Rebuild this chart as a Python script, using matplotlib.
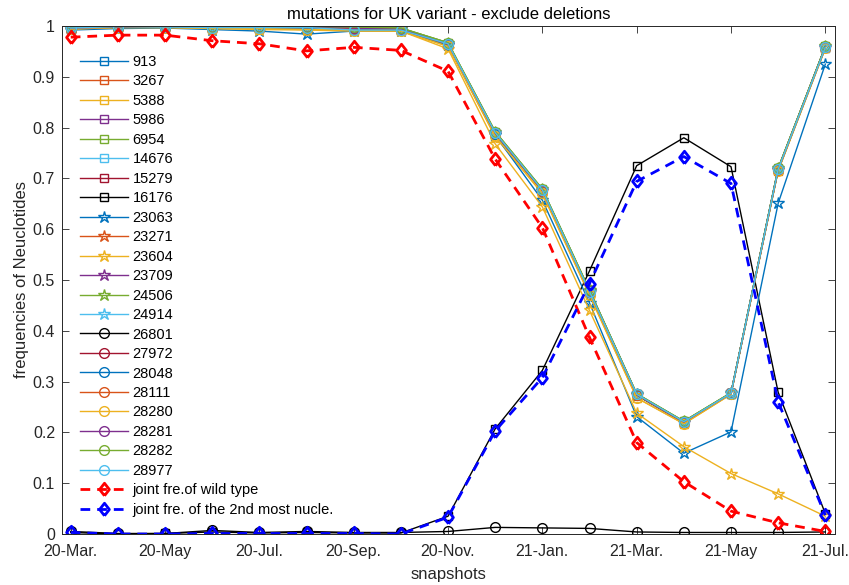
import matplotlib
matplotlib.use("Agg")
import matplotlib.pyplot as plt
import numpy as np

plt.rcParams['font.family'] = ['Liberation Sans', 'DejaVu Sans']

# ---------------- data ----------------
snapshots = list(range(1, 18))
tick_pos = [1, 3, 5, 7, 9, 11, 13, 15, 17]
tick_labels = ['20-Mar.', '20-May', '20-Jul.', '20-Sep.', '20-Nov.',
               '21-Jan.', '21-Mar.', '21-May', '21-Jul.']

mutation_names = ['913', '3267', '5388', '5986', '6954', '14676', '15279', '16176',
                  '23063', '23271', '23604', '23709', '24506', '24914',
                  '26801', '27972', '28048', '28111', '28280', '28281', '28282', '28977']

m913 = [0.995, 0.998, 0.998, 0.996, 0.996, 0.996, 0.994, 0.992, 0.963, 0.787, 0.675, 0.475, 0.273, 0.219, 0.276, 0.716, 0.957]
m3267 = [0.995, 0.998, 0.998, 0.997, 0.997, 0.997, 0.995, 0.993, 0.964, 0.789, 0.676, 0.477, 0.274, 0.220, 0.277, 0.717, 0.958]
m5388 = [0.994, 0.997, 0.997, 0.995, 0.995, 0.993, 0.991, 0.990, 0.960, 0.782, 0.670, 0.470, 0.268, 0.217, 0.275, 0.715, 0.956]
m5986 = [0.996, 0.998, 0.999, 0.998, 0.998, 0.998, 0.996, 0.994, 0.965, 0.790, 0.677, 0.478, 0.275, 0.221, 0.277, 0.718, 0.959]
m6954 = [0.997, 0.999, 0.999, 0.999, 0.999, 0.999, 0.998, 0.996, 0.967, 0.792, 0.679, 0.480, 0.276, 0.222, 0.278, 0.720, 0.960]
m14676 = [0.995, 0.998, 0.998, 0.997, 0.997, 0.997, 0.995, 0.993, 0.964, 0.789, 0.677, 0.477, 0.275, 0.221, 0.277, 0.718, 0.958]
m15279 = [0.995, 0.998, 0.998, 0.997, 0.997, 0.997, 0.995, 0.993, 0.964, 0.789, 0.676, 0.477, 0.274, 0.220, 0.277, 0.719, 0.959]
m16176 = [0.003, 0.000, 0.001, 0.004, 0.002, 0.003, 0.002, 0.002, 0.035, 0.207, 0.322, 0.518, 0.725, 0.780, 0.723, 0.279, 0.040]
m23063 = [0.992, 0.995, 0.996, 0.993, 0.990, 0.984, 0.990, 0.990, 0.962, 0.785, 0.657, 0.455, 0.231, 0.159, 0.201, 0.651, 0.925]
m23271 = [0.995, 0.998, 0.998, 0.997, 0.997, 0.997, 0.995, 0.993, 0.964, 0.789, 0.676, 0.477, 0.274, 0.220, 0.277, 0.717, 0.958]
m23604 = [0.994, 0.997, 0.997, 0.995, 0.993, 0.992, 0.990, 0.990, 0.955, 0.768, 0.644, 0.440, 0.238, 0.172, 0.119, 0.079, 0.035]
m23709 = [0.996, 0.998, 0.999, 0.998, 0.998, 0.998, 0.996, 0.994, 0.965, 0.790, 0.677, 0.478, 0.275, 0.221, 0.277, 0.718, 0.959]
m24506 = [0.997, 0.999, 0.999, 0.999, 0.999, 0.999, 0.998, 0.996, 0.967, 0.792, 0.679, 0.480, 0.276, 0.222, 0.278, 0.720, 0.960]
m24914 = [0.995, 0.998, 0.998, 0.997, 0.997, 0.997, 0.995, 0.993, 0.964, 0.789, 0.677, 0.477, 0.275, 0.221, 0.277, 0.718, 0.958]
m26801 = [0.005, 0.001, 0.001, 0.007, 0.003, 0.005, 0.003, 0.003, 0.005, 0.013, 0.012, 0.011, 0.004, 0.003, 0.003, 0.003, 0.004]
m27972 = [0.995, 0.998, 0.998, 0.997, 0.997, 0.997, 0.995, 0.993, 0.964, 0.789, 0.676, 0.477, 0.274, 0.220, 0.277, 0.719, 0.959]
m28048 = [0.995, 0.998, 0.998, 0.996, 0.996, 0.996, 0.994, 0.992, 0.963, 0.788, 0.676, 0.476, 0.274, 0.220, 0.276, 0.717, 0.958]
m28111 = [0.995, 0.998, 0.998, 0.997, 0.997, 0.997, 0.995, 0.993, 0.964, 0.789, 0.676, 0.477, 0.274, 0.220, 0.277, 0.717, 0.958]
m28280 = [0.994, 0.997, 0.997, 0.995, 0.995, 0.993, 0.991, 0.990, 0.960, 0.783, 0.671, 0.471, 0.268, 0.217, 0.275, 0.715, 0.956]
m28281 = [0.996, 0.998, 0.999, 0.998, 0.998, 0.998, 0.996, 0.994, 0.965, 0.790, 0.677, 0.478, 0.275, 0.221, 0.277, 0.718, 0.959]
m28282 = [0.997, 0.999, 0.999, 0.999, 0.999, 0.999, 0.998, 0.996, 0.967, 0.792, 0.679, 0.480, 0.276, 0.222, 0.278, 0.720, 0.960]
m28977 = [0.996, 0.999, 0.998, 0.997, 0.997, 0.997, 0.992, 0.992, 0.965, 0.790, 0.677, 0.477, 0.275, 0.221, 0.277, 0.718, 0.958]

joint_wild = [0.978, 0.982, 0.982, 0.971, 0.965, 0.951, 0.958, 0.952, 0.911, 0.738, 0.603, 0.387, 0.180, 0.103, 0.045, 0.022, 0.005]
joint_2nd = [0.003, 0.000, 0.000, 0.001, 0.001, 0.001, 0.001, 0.000, 0.033, 0.203, 0.308, 0.493, 0.694, 0.743, 0.690, 0.260, 0.037]

series = [m913, m3267, m5388, m5986, m6954, m14676, m15279, m16176,
          m23063, m23271, m23604, m23709, m24506, m24914,
          m26801, m27972, m28048, m28111, m28280, m28281, m28282, m28977]

# ---------------- style ----------------
mat_colors = ['#0072BD', '#D95319', '#EDB120', '#7E2F8E', '#77AC30', '#4DBEEE', '#A2142F']
markers = ['s'] * 8 + ['*'] * 6 + ['o'] * 8
msizes = {'s': 5.8, '*': 9.0, 'o': 7.0}
diamond = [(0, -1), (0.78, 0), (0, 1), (-0.78, 0), (0, -1)]

fig = plt.figure(figsize=(8.49, 5.85), dpi=100)
ax = fig.add_axes([62 / 849, 51 / 585, 773 / 849, 508 / 585])

ci = 0
for name, vals, mk in zip(mutation_names, series, markers):
    if name in ('16176', '26801'):
        col = 'black'
    else:
        col = mat_colors[ci % 7]
        ci += 1
    ax.plot(snapshots, vals, color=col, marker=mk, markersize=msizes[mk],
            markerfacecolor='none', markeredgecolor=col, markeredgewidth=1.0,
            linewidth=1.0, label=name)

ax.plot(snapshots, joint_wild, color='#FF0000', linestyle=(0, (3.5, 2.5)), linewidth=2.0,
        marker=diamond, markersize=9.0, markerfacecolor='none', markeredgewidth=2.0,
        label='joint fre.of wild type')
ax.plot(snapshots, joint_2nd, color='#0000FF', linestyle=(0, (3.5, 2.5)), linewidth=2.0,
        marker=diamond, markersize=9.0, markerfacecolor='none', markeredgewidth=2.0,
        label='joint fre. of the 2nd most nucle.')

ax.set_xlim(0.815, 17.205)
ax.set_ylim(0, 1)
ax.set_xticks(tick_pos)
ax.set_xticklabels(tick_labels)
ax.set_yticks(np.round(np.arange(0, 1.01, 0.1), 1))
ax.set_yticklabels(['0', '0.1', '0.2', '0.3', '0.4', '0.5', '0.6', '0.7', '0.8', '0.9', '1'])

axc = '#262626'
for s in ax.spines.values():
    s.set_color(axc)
    s.set_linewidth(0.7)
ax.tick_params(direction='in', length=4.8, width=0.6, colors=axc, labelsize=11.5,
               top=True, right=True)
ax.tick_params(axis='x', pad=7)
ax.tick_params(axis='y', pad=5)
for lab in ax.get_xticklabels() + ax.get_yticklabels():
    lab.set_color(axc)

ax.set_title('mutations for UK variant - exclude deletions', fontsize=12, color='black', pad=5)
ax.set_xlabel('snapshots', fontsize=12, color=axc, labelpad=6)
ax.set_ylabel('frequencies of Neuclotides', fontsize=12, color=axc, labelpad=3)

leg = ax.legend(loc='upper left', bbox_to_anchor=(80 / 849, (585 - 55) / 585),
                bbox_transform=fig.transFigure, frameon=False, fontsize=10.5,
                handlelength=3.3, handletextpad=0.3, labelspacing=0.375,
                borderpad=0, borderaxespad=0, numpoints=1)

fig.savefig('out.png', dpi=100)
